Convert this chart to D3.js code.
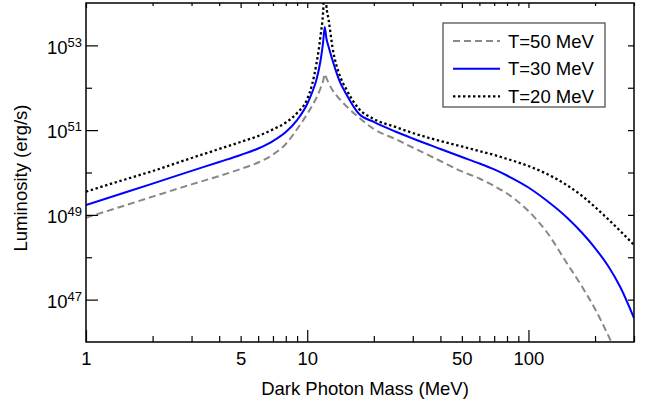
<!DOCTYPE html>
<html>
<head>
<meta charset="utf-8">
<script src="https://cdn.jsdelivr.net/npm/d3@7"></script>
<style>
  body { margin: 0; background: #fff; }
  text { font-family: "Liberation Sans", Arial, Helvetica, sans-serif; }
</style>
</head>
<body>
<div class="container"></div>
<script>
  // dark photon mass (MeV)
  var mass = [1, 1.5, 2, 3, 4, 5, 6, 7, 8, 9, 10, 10.5, 11, 11.5, 11.8, 12, 12.2, 12.5, 13, 14, 15, 17, 20, 25,
              30, 40, 50, 60, 70, 80, 100, 120, 150, 175, 200, 230, 260, 300];

  // luminosity (erg/s)
  var lum50 = [8.58e48, 1.67e49, 2.69e49, 5.24e49, 8.26e49, 1.21e50, 1.72e50, 2.66e50, 4.71e50, 1.06e51, 2.4e51,
               3.71e51, 5.73e51, 9.86e51, 1.44e52, 2.11e52, 1.7e52, 1.29e52, 8.85e51, 5.42e51, 3.71e51, 2.04e51,
               1.06e51, 6.18e50, 3.89e50, 1.87e50, 1.06e50, 7.22e49, 4.8e49, 3.19e49, 1.23e49, 4.16e48, 6.93e47,
               1.99e47, 6.01e46, 1.39e46, 3.37e45, 5.93e44];
  var lum30 = [1.71e49, 3.37e49, 5.47e49, 1.09e50, 1.77e50, 2.59e50, 3.68e50, 5.53e50, 9.03e50, 1.73e51, 4.14e51,
               7.52e51, 1.52e52, 4.52e52, 1.2e53, 2.72e53, 1.49e53, 9.16e52, 4.52e52, 1.44e52, 7.12e51, 2.54e51,
               1.56e51, 9.29e50, 6.34e50, 3.59e50, 2.32e50, 1.63e50, 1.18e50, 8.49e49, 4.43e49, 2.24e49, 8.43e48,
               3.73e48, 1.65e48, 6.05e47, 1.99e47, 3.68e46];
  var lum20 = [3.52e49, 6.84e49, 1.08e50, 2.2e50, 3.59e50, 5.25e50, 7.26e50, 1.04e51, 1.51e51, 2.54e51, 5.42e51,
               1.16e52, 3.63e52, 1.76e53, 6.13e53, 3.5e54, 8.97e53, 3.97e53, 9.2e52, 2.0e52, 9.33e51, 3.33e51,
               1.83e51, 1.19e51, 8.55e50, 5.53e50, 4.11e50, 3.21e50, 2.59e50, 2.1e50, 1.42e50, 9.47e49, 4.93e49,
               2.79e49, 1.53e49, 7.78e48, 4.16e48, 1.95e48];

  var seriesNames = ["T=50 MeV", "T=30 MeV", "T=20 MeV"];

  // ticks
  var xMajorTicks = [1, 10, 100];
  var xMinorTicks = [2, 3, 4, 5, 6, 7, 8, 9, 20, 30, 40, 50, 60, 70, 80, 90, 200, 300];
  var xTopLong = [1, 5, 10, 50, 100];
  var xTickLabels = [1, 5, 10, 50, 100];
  var yMajorTicks = [1e47, 1e49, 1e51, 1e53];
  var yMinorTicks = [1e48, 1e50, 1e52];
  var yTickExps = [47, 49, 51, 53];

  // Frame attributes
  var w = 646;
  var h = 402;
  var pLeft = 86, pRight = 634, pTop = 3, pBottom = 342;

  var svg = d3.select(".container").append("svg").attr("width", w).attr("height", h);

  var x = d3.scaleLog().domain([1, 300]).range([pLeft, pRight]);
  var y = d3.scaleLog().domain([1e46, 1e54]).range([pBottom, pTop]);

  svg.append("clipPath").attr("id", "plotclip")
    .append("rect").attr("x", pLeft).attr("y", pTop).attr("width", pRight - pLeft).attr("height", pBottom - pTop);

  // curves
  var series = [
    {name: seriesNames[0], values: lum50, color: "#888888", dash: "7,4", width: 2},
    {name: seriesNames[1], values: lum30, color: "#0000ff", dash: null, width: 2},
    {name: seriesNames[2], values: lum20, color: "#000000", dash: "2.4,2.6", width: 2.3}
  ];

  var line = d3.line()
    .x(function(d){ return x(d[0]); })
    .y(function(d){ return y(d[1]); })
    .curve(d3.curveMonotoneX);

  svg.append("g").attr("clip-path", "url(#plotclip)")
    .selectAll("path")
    .data(series)
    .enter()
    .append("path")
    .attr("fill", "none")
    .attr("stroke", function(d){ return d.color; })
    .attr("stroke-width", function(d){ return d.width; })
    .attr("stroke-dasharray", function(d){ return d.dash; })
    .attr("d", function(d){ return line(d3.zip(mass, d.values)); });

  // tick marks, all pointing inward
  function ticks(axisFn, scale, vals, size, transform) {
    svg.append("g").attr("transform", transform)
      .call(axisFn(scale).tickValues(vals).tickSize(size).tickFormat(""))
      .call(function(g){
        g.select(".domain").remove();
        g.selectAll("line").attr("stroke", "#000").attr("stroke-width", 1.2);
      });
  }
  ticks(d3.axisBottom, x, xMajorTicks, -12, "translate(0," + pBottom + ")");
  ticks(d3.axisBottom, x, xMinorTicks, -6, "translate(0," + pBottom + ")");
  ticks(d3.axisTop, x, xTopLong, -5, "translate(0," + pTop + ")");
  ticks(d3.axisTop, x, xMinorTicks.filter(function(d){ return xTopLong.indexOf(d) < 0; }), -3, "translate(0," + pTop + ")");
  ticks(d3.axisLeft, y, yMajorTicks, -12, "translate(" + pLeft + ",0)");
  ticks(d3.axisLeft, y, yMinorTicks, -6, "translate(" + pLeft + ",0)");
  ticks(d3.axisRight, y, yMajorTicks.concat(yMinorTicks), -6, "translate(" + pRight + ",0)");

  // frame
  svg.append("rect")
    .attr("x", pLeft).attr("y", pTop)
    .attr("width", pRight - pLeft).attr("height", pBottom - pTop)
    .attr("fill", "none").attr("stroke", "#000").attr("stroke-width", 1.5);

  // x labels
  svg.append("g").attr("transform", "translate(0," + pBottom + ")")
    .call(d3.axisBottom(x).tickValues(xTickLabels).tickSize(0).tickPadding(10).tickFormat(d3.format("d")))
    .call(function(g){
      g.select(".domain").remove();
      g.attr("font-family", null).attr("font-size", null);
      g.selectAll("text").attr("font-size", 18.5).attr("fill", "#000");
    });

  // y labels with exponent
  var yl = svg.append("g").selectAll("text")
    .data(yMajorTicks)
    .enter()
    .append("text")
    .attr("x", pLeft - 4)
    .attr("y", function(d){ return y(d) + 8.3; })
    .attr("text-anchor", "end")
    .attr("font-size", 18.5);
  yl.append("tspan").text("10");
  yl.append("tspan").attr("dy", -7).attr("font-size", 13)
    .text(function(d, i){ return yTickExps[i]; });

  // axis titles
  svg.append("text")
    .attr("x", 365).attr("y", 395)
    .attr("text-anchor", "middle")
    .attr("font-size", 18.5)
    .text("Dark Photon Mass (MeV)");

  svg.append("text")
    .attr("transform", "translate(27,178) rotate(-90)")
    .attr("text-anchor", "middle")
    .attr("font-size", 18.5)
    .text("Luminosity (erg/s)");

  // legend
  var lg = svg.append("g");
  lg.append("rect")
    .attr("x", 443).attr("y", 23).attr("width", 162).attr("height", 84)
    .attr("fill", "#fff").attr("stroke", "#444").attr("stroke-width", 1.2);

  var rows = lg.selectAll(".row")
    .data(series)
    .enter()
    .append("g")
    .attr("class", "row")
    .attr("transform", function(d, i){ return "translate(0," + (41 + i * 27.7) + ")"; });
  rows.append("line")
    .attr("x1", 453).attr("x2", 500)
    .attr("stroke", function(d){ return d.color; })
    .attr("stroke-width", function(d){ return d.width; })
    .attr("stroke-dasharray", function(d){ return d.dash; });
  rows.append("text")
    .attr("x", 508).attr("y", 6.5)
    .attr("font-size", 18.5)
    .text(function(d){ return d.name; });
</script>
</body>
</html>
